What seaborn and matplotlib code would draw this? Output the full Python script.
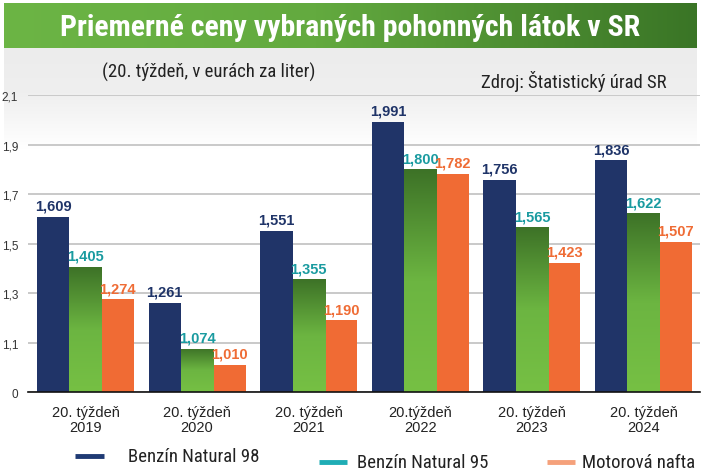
import numpy as np
import pandas as pd
import matplotlib
matplotlib.use('Agg')
import matplotlib.pyplot as plt
import seaborn as sns
from matplotlib.colors import LinearSegmentedColormap
from matplotlib.lines import Line2D

# ---------------- data ----------------
years = ['2019', '2020', '2021', '2022', '2023', '2024']
x_labels = ['20. týždeň\n2019', '20. týždeň\n2020', '20. týždeň\n2021',
            '20.týždeň\n2022', '20. týždeň\n2023', '20. týždeň\n2024']
natural98 = [1.609, 1.261, 1.551, 1.991, 1.756, 1.836]
natural95 = [1.405, 1.074, 1.355, 1.800, 1.565, 1.622]
nafta = [1.274, 1.010, 1.190, 1.782, 1.423, 1.507]
series_names = ['Benzín Natural 98', 'Benzín Natural 95', 'Motorová nafta']
y_ticks = [0.9, 1.1, 1.3, 1.5, 1.7, 1.9, 2.1]
y_tick_labels = ['0', '1,1', '1,3', '1,5', '1,7', '1,9', '2,1']
title = 'Priemerné ceny vybraných pohonných látok v SR'
subtitle = '(20. týždeň, v eurách za liter)'
source = 'Zdroj: Štatistický úrad SR'

df = pd.DataFrame({
    'rok': years * 3,
    'cena': natural98 + natural95 + nafta,
    'palivo': [series_names[0]] * 6 + [series_names[1]] * 6 + [series_names[2]] * 6,
})

# ---------------- style ----------------
sns.set_theme(style='white')
plt.rcParams['font.family'] = ['Liberation Sans', 'DejaVu Sans']
COND = ['Roboto Condensed', 'Liberation Sans Narrow', 'Roboto', 'DejaVu Sans']

bar_colors = ['#203468', '#5aa23a', '#f06b34']
label_colors = ['#1f3468', '#1a9ba0', '#ef6c35']
legend_colors = ['#1f3a74', '#1fadb5', '#f5a17b']

W, H = 705, 477
fig = plt.figure(figsize=(W / 100, H / 100), dpi=100, facecolor='white')

def fx(px):
    return px / W

def fy(py):
    return 1 - py / H

# gray panel gradient behind header/plot top
bg_ax = fig.add_axes([fx(4), fy(150), fx(693), (150 - 49) / H], zorder=0)
bg_cmap = LinearSegmentedColormap.from_list('bg', [(0, '#ececec'), (0.45, '#efefef'), (1, '#ffffff')])
bg_ax.imshow(np.linspace(0, 1, 200).reshape(-1, 1), cmap=bg_cmap, aspect='auto',
             extent=(0, 1, 0, 1))
bg_ax.set_axis_off()

# green banner
ban_ax = fig.add_axes([fx(4), fy(49), fx(693), 45 / H], zorder=0)
ban_cmap = LinearSegmentedColormap.from_list('ban', [(0, '#6cb545'), (0.45, '#63aa3f'), (1, '#3a7526')])
ban_ax.imshow(np.linspace(0, 1, 300).reshape(1, -1), cmap=ban_cmap, aspect='auto',
              extent=(0, 1, 0, 1))
ban_ax.set_axis_off()

fig.text(fx(350), fy(28), title, ha='center', va='center', color='white',
         fontsize=21.5, fontweight='bold', family=COND, zorder=5)
fig.text(fx(209), fy(72), subtitle, ha='center', va='center', color='#222222',
         fontsize=13.5, family=COND, zorder=5)
fig.text(fx(574), fy(82), source, ha='center', va='center', color='#222222',
         fontsize=13.5, family=COND, zorder=5)

# ---------------- main axes ----------------
ax = fig.add_axes([fx(28), fy(393), fx(700 - 28), (393 - 96) / H], zorder=2)
ax.set_facecolor('none')

sns.barplot(data=df, x='rok', y='cena', hue='palivo', palette=bar_colors,
            saturation=1, width=0.87, ax=ax, legend=False, edgecolor='none',
            linewidth=0)

ax.set_ylim(0.9, 2.1)
ax.set_xlim(-0.515, 5.506)
ax.set_yticks(y_ticks)
ax.set_yticklabels(y_tick_labels)
ax.set_xticks(range(len(years)))
ax.set_xticklabels(x_labels, fontsize=10.5, color='#222222', linespacing=1.15)
ax.tick_params(axis='y', length=0, pad=7, labelsize=8.5, labelcolor='#333333')
ax.tick_params(axis='x', length=5, width=1, color='#555555', direction='out', pad=4)
ax.set_xlabel('')
ax.set_ylabel('')
ax.yaxis.grid(True, color='#c9c9c9', linewidth=1.4)
ax.set_axisbelow(True)
for s in ['left', 'top', 'right']:
    ax.spines[s].set_visible(False)
ax.spines['bottom'].set_color('#111111')
ax.spines['bottom'].set_linewidth(1.2)
ax.spines['bottom'].set_zorder(5)

# green gradient on the Natural 95 bars
green_cmap = LinearSegmentedColormap.from_list('gr', ['#76c044', '#6cb541', '#3d7227'])
grad = np.linspace(0, 1, 256).reshape(-1, 1)
for patch in ax.containers[1].patches:
    x0 = patch.get_x()
    w = patch.get_width()
    h = patch.get_height()
    im = ax.imshow(grad, cmap=green_cmap, aspect='auto', origin='lower',
                   extent=(x0, x0 + w, 0.9, h), zorder=patch.get_zorder() + 0.1)
    im.set_clip_path(patch)
ax.set_xlim(-0.515, 5.506)
ax.set_ylim(0.9, 2.1)

# value labels
for cont, col in zip(ax.containers, label_colors):
    labels = [f'{p.get_height():.3f}'.replace('.', ',') for p in cont.patches]
    ax.bar_label(cont, labels=labels, padding=3, color=col, fontsize=10.5,
                 fontweight='bold', zorder=6)

# ---------------- legend (manual, staggered like the original) ----------------
legend_items = [
    (75, 104, 457, 128),
    (319, 347, 463, 357),
    (547, 575, 463, 582),
]
for (x0, x1, yy, tx), name, col in zip(legend_items, series_names, legend_colors):
    fig.add_artist(Line2D([fx(x0), fx(x1)], [fy(yy), fy(yy)], color=col, lw=3.5,
                          transform=fig.transFigure, solid_capstyle='butt'))
    fig.text(fx(tx), fy(yy), name, ha='left', va='center', color='#222222',
             fontsize=13.5, family=COND)

fig.savefig('out.png', dpi=100, facecolor='white')
